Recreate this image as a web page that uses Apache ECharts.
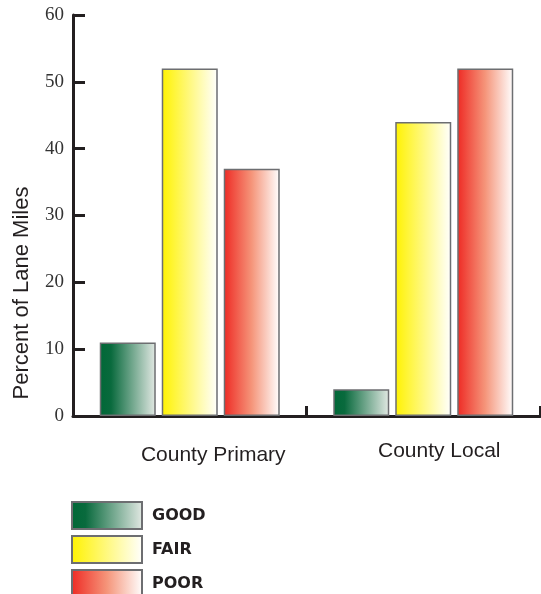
<!DOCTYPE html>
<html><head><meta charset="utf-8">
<script src="https://cdn.jsdelivr.net/npm/echarts@6/dist/echarts.min.js"></script>
<style>html,body{margin:0;padding:0;background:#fff}#c{width:541px;height:594px}</style>
</head><body><div id="c"></div>
<script>
var categories = ['County Primary', 'County Local'];
var good = [11, 4];
var fair = [52, 44];
var poor = [37, 52];
var seriesNames = ['GOOD', 'FAIR', 'POOR'];
var yTicks = [0, 10, 20, 30, 40, 50, 60];

var fills = [
  new echarts.graphic.LinearGradient(0, 0, 1, 0, [{offset: 0, color: '#006837'}, {offset: 0.2, color: '#096a3d'}, {offset: 1, color: '#e3e9e4'}]),
  new echarts.graphic.LinearGradient(0, 0, 1, 0, [{offset: 0, color: '#fff200'}, {offset: 1, color: '#ffffff'}]),
  new echarts.graphic.LinearGradient(0, 0, 1, 0, [{offset: 0, color: '#ee2a24'}, {offset: 0.5, color: '#f5957a'}, {offset: 1, color: '#ffffff'}])
];
var dataSets = [good, fair, poor];
var legendTops = [501, 535, 569];

var chart = echarts.init(document.getElementById('c'));
chart.setOption({
  animation: false,
  grid: {left: 73, right: 1, top: 15, bottom: 178},
  legend: seriesNames.map(function (n, i) {
    return {
      orient: 'vertical', left: 71, top: legendTops[i], padding: 0,
      itemWidth: 70, itemHeight: 27, itemGap: 0,
      icon: 'rect',
      data: [n],
      textStyle: {fontFamily: 'DejaVu Sans', fontWeight: 'bold', fontSize: 16, color: '#231f20', padding: [0, 0, 0, 5]}
    };
  }),
  graphic: [{
    type: 'text', x: 22, y: 293, rotation: Math.PI / 2,
    style: {text: 'Percent of Lane Miles', fontFamily: 'Liberation Sans', fontSize: 22, fill: '#231f20', align: 'center', verticalAlign: 'middle'}
  }],
  xAxis: {
    type: 'category', data: categories,
    axisLine: {lineStyle: {color: '#231f20', width: 3}},
    axisTick: {show: true, interval: 0, inside: true, length: 10, lineStyle: {color: '#231f20', width: 3}},
    axisLabel: {
      margin: 24, fontFamily: 'Liberation Sans', fontSize: 21, color: '#231f20',
      formatter: function (v, i) { return i === 0 ? '{a|' + v + '}' : '{b|' + v + '}'; },
      rich: {
        a: {fontFamily: 'Liberation Sans', fontSize: 21, color: '#231f20', padding: [5, 0, 0, 47]},
        b: {fontFamily: 'Liberation Sans', fontSize: 21, color: '#231f20', padding: [1, 0, 0, 32]}
      }
    }
  },
  yAxis: {
    type: 'value', min: yTicks[0], max: yTicks[yTicks.length - 1], interval: 10,
    splitLine: {show: false},
    axisLine: {show: true, lineStyle: {color: '#231f20', width: 3}},
    axisTick: {show: true, inside: true, length: 12, lineStyle: {color: '#231f20', width: 3}},
    axisLabel: {margin: 9, fontFamily: 'Liberation Serif', fontSize: 19, color: '#333'}
  },
  series: seriesNames.map(function (n, i) {
    return {
      name: n, type: 'bar', data: dataSets[i],
      barWidth: 56, barGap: '10.7%',
      itemStyle: {color: fills[i], borderColor: '#6d6e71', borderWidth: 1.5}
    };
  })
});
</script></body></html>
